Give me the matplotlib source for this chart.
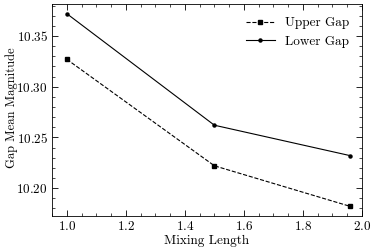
import matplotlib
matplotlib.use("Agg")
import matplotlib.pyplot as plt
from matplotlib.ticker import AutoMinorLocator, MultipleLocator

plt.rcParams['font.family'] = ['cmr10', 'DejaVu Serif']
plt.rcParams['axes.formatter.use_mathtext'] = True
plt.rcParams['mathtext.fontset'] = 'cm'

mixing_length = [1.0, 1.5, 1.96]
upper_gap = [10.327, 10.222, 10.182]
lower_gap = [10.372, 10.262, 10.232]

fig = plt.figure(figsize=(3.74, 2.5), dpi=100)
ax = fig.add_axes([52/374, 34/250, 310/374, 212/250])

ax.plot(mixing_length, upper_gap, 'k--s', lw=0.8, ms=2.5, label='Upper Gap')
ax.plot(mixing_length, lower_gap, 'k-o', lw=0.8, ms=2.2, label='Lower Gap')

ax.set_xlim(0.95, 2.0)
ax.set_ylim(10.1725, 10.3815)
ax.xaxis.set_major_locator(MultipleLocator(0.2))
ax.yaxis.set_major_locator(MultipleLocator(0.05))
ax.xaxis.set_minor_locator(AutoMinorLocator(4))
ax.yaxis.set_minor_locator(AutoMinorLocator(5))
ax.tick_params(which='both', direction='in', top=True, right=True, labelsize=9.5)
ax.tick_params(which='major', length=4, width=0.6, pad=3)
ax.tick_params(which='minor', length=2, width=0.5)
for s in ax.spines.values():
    s.set_linewidth(0.6)

ax.set_xlabel('Mixing Length', fontsize=9.5, labelpad=1)
ax.set_ylabel('Gap Mean Magnitude', fontsize=9)
ax.yaxis.set_label_coords(-0.11, 0.51)
ax.legend(loc='upper right', frameon=False, fontsize=9.5, handlelength=2.2,
          handletextpad=0.75, labelspacing=0.45, borderaxespad=0.6)

fig.savefig('out.png', dpi=100)
